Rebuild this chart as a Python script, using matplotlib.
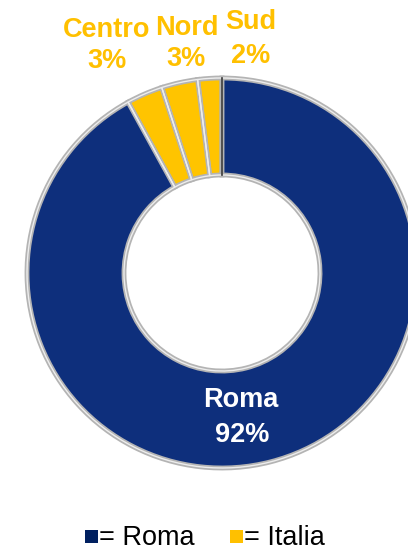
import matplotlib
matplotlib.use("Agg")
import matplotlib.pyplot as plt
from matplotlib.patches import Rectangle, Wedge

# Data
categories = ["Sud", "Nord", "Centro", "Roma"]
values = [2, 3, 3, 92]
colors = ["#FFC400", "#FFC400", "#FFC400", "#0E2F7C"]
legend_labels = ["= Roma", "= Italia"]
legend_colors = ["#002060", "#FFC000"]

W, H = 408, 551
fig = plt.figure(figsize=(W / 100, H / 100), dpi=100)
ax = fig.add_axes([0, 0, 1, 1])

cx, cy = 222, H - 273
R = 195
explode = [0.015 if c != "Roma" else 0.0 for c in categories]

wedges, _ = ax.pie(values, colors=colors, radius=R, center=(cx, cy),
                   startangle=90, counterclock=True, explode=explode,
                   wedgeprops=dict(width=97, edgecolor="#B4B4B4", linewidth=3.5))
for w in wedges:
    ax.add_patch(Wedge(w.center, w.r, w.theta1, w.theta2, width=w.width,
                       facecolor="none", edgecolor="#EDEDED", linewidth=1.0))
ax.plot([cx, cx], [cy + R - 97, cy + R], color="#333333", lw=1.2)

ax.set_xlim(0, W)
ax.set_ylim(0, H)
ax.set_aspect("equal")
ax.axis("off")

font = "Liberation Sans"
label_pos = {"Centro": (107, 30, 107, 61), "Nord": (187, 28, 186, 59), "Sud": (251, 22, 251, 56)}
for c, v in zip(categories, values):
    if c == "Roma":
        ax.text(241, H - 400, c, color="white", fontsize=19.5, fontweight="bold",
                family=font, ha="center", va="center")
        ax.text(242, H - 435, f"{v}%", color="white", fontsize=19.5, fontweight="bold",
                family=font, ha="center", va="center")
    else:
        x1, y1, x2, y2 = label_pos[c]
        ax.text(x1, H - y1, c, color="#FFC000", fontsize=19.5, fontweight="bold",
                family=font, ha="center", va="center")
        ax.text(x2, H - y2, f"{v}%", color="#FFC000", fontsize=19.5, fontweight="bold",
                family=font, ha="center", va="center")

lx = [85, 230]
for x, lab, col in zip(lx, legend_labels, legend_colors):
    ax.add_patch(Rectangle((x, H - 543), 13, 13, facecolor=col, edgecolor="none"))
    ax.text(x + 14, H - 538, lab, fontsize=19.5, family=font, color="black",
            ha="left", va="center")

fig.savefig("out.png", dpi=100)
